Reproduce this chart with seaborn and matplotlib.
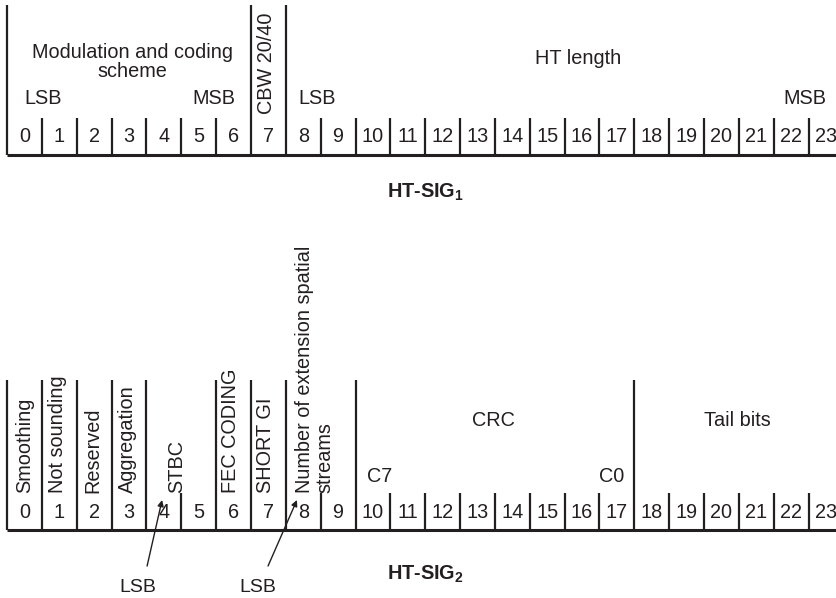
import matplotlib
matplotlib.use("Agg")
import matplotlib.pyplot as plt
import seaborn as sns

# -----------------------------
# Data: bit layout of HT-SIG1 / HT-SIG2
# -----------------------------
bit_numbers = list(range(24))

sig1_field_edges = [0, 7, 8]                      # full-height dividers
sig1_labels = ["Modulation and coding\nscheme", "HT length"]
sig1_label_pos = [3.6, 16.4]
sig1_rot_labels = ["CBW 20/40"]
sig1_rot_pos = [7.45]
sig1_order_labels = ["LSB", "MSB", "LSB", "MSB"]
sig1_order_pos = [1.05, 5.95, 8.9, 22.9]

sig2_field_edges = [0, 1, 2, 3, 4, 6, 7, 8, 10, 18]
sig2_rot_labels = ["Smoothing", "Not sounding", "Reserved", "Aggregation", "STBC",
                   "FEC CODING", "SHORT GI", "Number of extension spatial\nstreams"]
sig2_rot_pos = [0.5, 1.45, 2.45, 3.45, 4.87, 6.42, 7.42, 8.83]
sig2_labels = ["CRC", "Tail bits"]
sig2_label_pos = [13.95, 20.95]
sig2_crc_ends = ["C7", "C0"]
sig2_crc_ends_pos = [10.7, 17.35]
lsb_text_pos = [3.76, 7.2]
lsb_arrow_tail = [4.02, 7.49]
lsb_arrow_head = [4.45, 8.32]

titles = [r"HT-SIG$_{\mathbf{1}}$", r"HT-SIG$_{\mathbf{2}}$"]

# -----------------------------
# Layout (pixels from top, bit units across)
# -----------------------------
W, H = 836, 598
X0_PX, BIT_PX = 7, 34.85
TOP_BASE, BOT_BASE = 155, 530
TALL, SHORT = 150, 37
INK = "#231f20"
FS = 14.3

sns.set_theme(style="white")
plt.rcParams["font.family"] = ["Liberation Sans", "DejaVu Sans"]
plt.rcParams["mathtext.fontset"] = "custom"
plt.rcParams["mathtext.bf"] = "Liberation Sans:bold"
plt.rcParams["mathtext.rm"] = "Liberation Sans:bold"

fig = plt.figure(figsize=(W / 100, H / 100), dpi=100)
ax = fig.add_axes([0, 0, 1, 1])
ax.set_xlim(-X0_PX / BIT_PX, (W - X0_PX) / BIT_PX)
ax.set_ylim(H, 0)
ax.axis("off")


def draw_register(base, tall_edges):
    short_edges = [b for b in range(1, 24) if b not in tall_edges]
    ax.hlines(base, 0, 24.5, color=INK, lw=2.2)
    ax.vlines(tall_edges, base - TALL, base, color=INK, lw=1.6)
    ax.vlines(short_edges, base - SHORT, base, color=INK, lw=1.6)
    for b in bit_numbers:
        ax.text(b + 0.5, base - 18, str(b), ha="center", va="center",
                fontsize=FS, color=INK)


# ---- HT-SIG1 ----
draw_register(TOP_BASE, sig1_field_edges)
ax.text(sig1_label_pos[0], 62, sig1_labels[0], ha="center", va="center",
        fontsize=FS, color=INK, linespacing=0.95)
ax.text(sig1_label_pos[1], 58, sig1_labels[1], ha="center", va="center",
        fontsize=FS, color=INK)
for lab, x in zip(sig1_rot_labels, sig1_rot_pos):
    ax.text(x, 114, lab, rotation=90, ha="center", va="bottom", fontsize=FS, color=INK)
for lab, x in zip(sig1_order_labels, sig1_order_pos):
    ax.text(x, 99, lab, ha="center", va="center", fontsize=FS, color=INK)

# ---- HT-SIG2 ----
draw_register(BOT_BASE, sig2_field_edges)
for lab, x in zip(sig2_rot_labels, sig2_rot_pos):
    ax.text(x, 493, lab, rotation=90, ha="center", va="bottom", fontsize=FS,
            color=INK, multialignment="left", linespacing=1.05)
for lab, x in zip(sig2_labels, sig2_label_pos):
    ax.text(x, 421, lab, ha="center", va="center", fontsize=FS, color=INK)
for lab, x in zip(sig2_crc_ends, sig2_crc_ends_pos):
    ax.text(x, 476, lab, ha="center", va="center", fontsize=FS, color=INK)
for xt, tail, head in zip(lsb_text_pos, lsb_arrow_tail, lsb_arrow_head):
    ax.text(xt, 587, "LSB", ha="center", va="center", fontsize=14, color=INK)
    ax.annotate("", xy=(head, 500), xytext=(tail, 566),
                arrowprops=dict(arrowstyle="-|>", color=INK, lw=1.0,
                                mutation_scale=9, shrinkA=0, shrinkB=0))

# ---- register titles ----
for yc, title in zip([192, 574], titles):
    ax.text((387 - X0_PX) / BIT_PX, yc, title, ha="left", va="center",
            fontsize=FS, fontweight="bold", color=INK)

fig.savefig("out.png", dpi=100)
